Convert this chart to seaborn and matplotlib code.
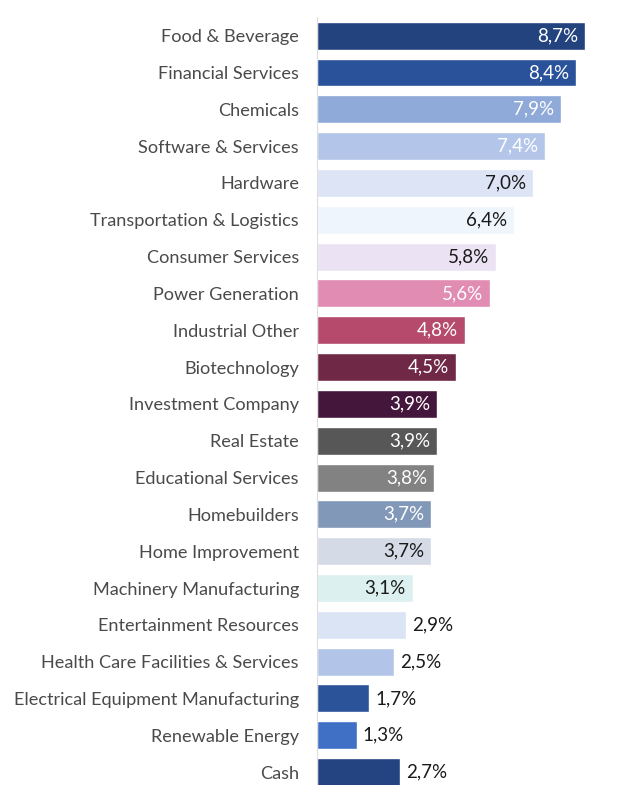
import numpy as np
import pandas as pd
import matplotlib.pyplot as plt
import seaborn as sns

sectors = ["Food & Beverage", "Financial Services", "Chemicals", "Software & Services",
           "Hardware", "Transportation & Logistics", "Consumer Services", "Power Generation",
           "Industrial Other", "Biotechnology", "Investment Company", "Real Estate",
           "Educational Services", "Homebuilders", "Home Improvement", "Machinery Manufacturing",
           "Entertainment Resources", "Health Care Facilities & Services",
           "Electrical Equipment Manufacturing", "Renewable Energy", "Cash"]
weights = [8.7, 8.4, 7.9, 7.4, 7.0, 6.4, 5.8, 5.6, 4.8, 4.5, 3.9, 3.9, 3.8, 3.7, 3.7, 3.1,
           2.9, 2.5, 1.7, 1.3, 2.7]
colors = ["#23437f", "#2a529a", "#8fa9d9", "#b3c6e9", "#dce4f5", "#eef5fd", "#ebe3f3",
          "#e08cb3", "#b54a6d", "#6f2845", "#45163b", "#575757", "#828282", "#8298b8",
          "#d5dbe6", "#dcf0ef", "#dbe4f5", "#b2c5e8", "#2b539a", "#4070c6", "#244381"]
dark_text = {"Hardware", "Transportation & Logistics", "Consumer Services",
             "Home Improvement", "Machinery Manufacturing"}
outside = {"Entertainment Resources", "Health Care Facilities & Services",
           "Electrical Equipment Manufacturing", "Renewable Energy", "Cash"}

df = pd.DataFrame({"sector": sectors, "weight": weights})

sns.set_style("white")
plt.rcParams['font.family'] = ['Lato', 'DejaVu Sans']

fig = plt.figure(figsize=(6.29, 7.85), dpi=100)
ax = fig.add_axes([0.504, 0.0, 0.49, 0.978])
sns.barplot(data=df, x="weight", y="sector", hue="sector", palette=colors,
            legend=False, width=0.76, saturation=1, ax=ax, orient="h")

for i, (s, w) in enumerate(zip(sectors, weights)):
    lab = f"{w:.1f}%".replace(".", ",")
    if s in outside:
        ax.text(w + 0.18, i, lab, ha="left", va="center", fontsize=13.5, color="#1a1a1a")
    else:
        c = "#1a1a1a" if s in dark_text else "white"
        ax.text(w - 0.22, i, lab, ha="right", va="center", fontsize=13.5, color=c)

ax.set_xlim(0, 10)
ax.set_ylim(20.35, -0.5)
ax.set_xlabel("")
ax.set_ylabel("")
ax.set_xticks([])
ax.set_yticks(np.arange(len(sectors)))
ax.set_yticklabels(sectors, fontsize=13.1, color="#4a4a4a")
ax.set_yticks(np.arange(len(sectors)) - 0.5, minor=True)
ax.tick_params(axis="y", which="major", length=0, pad=13)
ax.tick_params(axis="y", which="minor", length=5, color="#dddddd", width=1)
for side in ["top", "right", "bottom"]:
    ax.spines[side].set_visible(False)
ax.spines["left"].set_color("#dddddd")

fig.savefig("out.png", dpi=100)
